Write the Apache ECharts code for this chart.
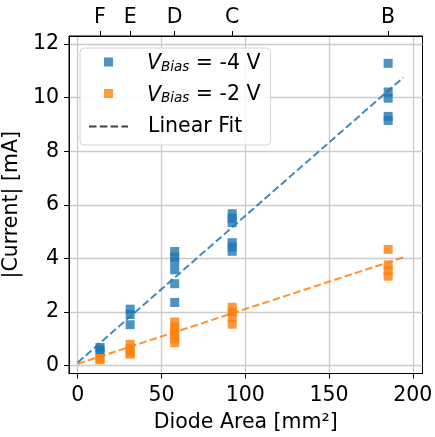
<!DOCTYPE html>
<html>
<head>
<meta charset="utf-8">
<script src="https://cdn.jsdelivr.net/npm/echarts@6/dist/echarts.min.js"></script>
<style>html,body{margin:0;padding:0;background:#fff;}#c{width:435px;height:437px;}</style>
</head>
<body>
<div id="c"></div>
<script>
// Diode areas (mm^2) and their names (top axis)
const areas = [13.3, 31.3, 57.9, 92.2, 185.3];
const areaLabels = ['F', 'E', 'D', 'C', 'B'];
// |Current| in mA, per diode, several measurements each
const currentBias4 = [
  [0.68, 0.6, 0.52],
  [2.11, 1.91, 1.53],
  [4.26, 4.05, 3.9, 3.58, 3.06, 2.36],
  [5.67, 5.5, 5.34, 4.59, 4.43, 4.27],
  [11.28, 10.21, 9.98, 9.3, 9.15]
];
const currentBias2 = [
  [0.27, 0.22],
  [0.8, 0.65, 0.5, 0.43],
  [1.63, 1.45, 1.3, 1.15, 1.0, 0.86],
  [2.18, 2.0, 1.8, 1.55],
  [4.34, 3.76, 3.55, 3.34]
];
// Linear fit endpoints
const fitX = [0, 194.3];
const fitBias4 = [0.12, 10.75];
const fitBias2 = [0.07, 4.04];
// Axis ticks
const xTicks = [0, 50, 100, 150, 200];
const yTicks = [0, 2, 4, 6, 8, 10, 12];
const legendVoltages = ['-4 V', '-2 V'];

const FONT = 'DejaVu Sans';
const FS = 20.5;
const C1 = '#1f77b4', C2 = '#ff7f0e';
const XMIN = -5.2, XMAX = 205.8, YMIN = -0.29, YMAX = 12.3;

function pts(groups) {
  const out = [];
  groups.forEach((g, i) => g.forEach(v => out.push([areas[i], v])));
  return out;
}

const chart = echarts.init(document.getElementById('c'), null, {renderer: 'canvas'});
const sq = 'path://M0,0L1,0L1,1L0,1Z';
chart.setOption({
  animation: false,
  backgroundColor: '#fff',
  grid: {left: 69, right: 12.5, top: 36, bottom: 63.5, show: true, borderColor: '#000', borderWidth: 1, backgroundColor: 'transparent', outerBoundsMode: 'none'},
  legend: {
    orient: 'vertical', left: 80, top: 48,
    padding: [5, 10, 8, 8],
    backgroundColor: 'rgba(255,255,255,0.85)',
    borderColor: '#d4d4d4', borderWidth: 1, borderRadius: 4,
    itemWidth: 39, itemHeight: 9, itemGap: 10.5,
    data: [
      {name: 'bias4', icon: sq},
      {name: 'bias2', icon: sq},
      {name: 'Linear Fit', itemStyle: {opacity: 0}}
    ],
    formatter: function (name) {
      if (name === 'Linear Fit') return '{t0|Linear Fit}';
      const v = name === 'bias4' ? legendVoltages[0] : legendVoltages[1];
      return '{v|V}{s|Bias}{t| = ' + v + '}';
    },
    textStyle: {
      fontFamily: FONT, fontSize: FS, color: '#000',
      rich: {
        v: {fontFamily: FONT, fontSize: FS, fontStyle: 'italic', color: '#000', lineHeight: 24, verticalAlign: 'bottom', padding: [0, 0, 0, 14]},
        s: {fontFamily: FONT, fontSize: 13.5, fontStyle: 'italic', color: '#000', lineHeight: 13.8, verticalAlign: 'bottom'},
        t: {fontFamily: FONT, fontSize: FS, color: '#000', lineHeight: 24, verticalAlign: 'bottom'},
        t0: {fontFamily: FONT, fontSize: FS, color: '#000', lineHeight: 24, padding: [0, 0, 0, 15]}
      }
    }
  },
  xAxis: [{
    type: 'value', position: 'bottom', min: XMIN, max: XMAX,
    name: 'Diode Area [mm²]', nameLocation: 'middle', nameGap: 39,
    nameTextStyle: {fontFamily: FONT, fontSize: FS, color: '#000'},
    axisLine: {show: true, onZero: false, lineStyle: {color: '#000', width: 1}},
    axisTick: {show: true, length: 5, customValues: xTicks, lineStyle: {color: '#000', width: 1}},
    axisLabel: {customValues: xTicks, fontFamily: FONT, fontSize: FS, color: '#000', margin: 12},
    splitLine: {show: true, lineStyle: {color: '#cbcbcb', width: 1.3}}
  }, {
    type: 'value', position: 'top', min: XMIN, max: XMAX,
    axisLine: {show: true, onZero: false, lineStyle: {color: '#000', width: 1}},
    axisTick: {show: true, length: 5, customValues: areas, lineStyle: {color: '#000', width: 1}},
    axisLabel: {customValues: areas, fontFamily: FONT, fontSize: FS, color: '#000', margin: 8,
      formatter: function (v) { const i = areas.indexOf(v); return i >= 0 ? areaLabels[i] : ''; }},
    splitLine: {show: false}
  }],
  yAxis: [{
    type: 'value', min: YMIN, max: YMAX,
    name: '|Current| [mA]', nameLocation: 'middle', nameGap: 32, nameRotate: 90,
    nameTextStyle: {fontFamily: FONT, fontSize: FS, color: '#000'},
    axisLine: {show: true, onZero: false, lineStyle: {color: '#000', width: 1}},
    axisTick: {show: true, length: 5, customValues: yTicks, lineStyle: {color: '#000', width: 1}},
    axisLabel: {customValues: yTicks, fontFamily: FONT, fontSize: FS, color: '#000', margin: 10},
    splitLine: {show: true, lineStyle: {color: '#cbcbcb', width: 1.3}}
  }],
  series: [
    {name: 'bias4', type: 'scatter', symbol: 'rect', symbolSize: 9, data: pts(currentBias4), itemStyle: {color: C1}, z: 3},
    {name: 'bias2', type: 'scatter', symbol: 'rect', symbolSize: 9, data: pts(currentBias2), itemStyle: {color: C2}, z: 3},
    {name: 'fit4', type: 'line', symbol: 'none', data: fitX.map((x, i) => [x, fitBias4[i]]),
      lineStyle: {color: C1, width: 2, type: [7.5, 3.3], opacity: 0.85}, z: 4, silent: true},
    {name: 'fit2', type: 'line', symbol: 'none', data: fitX.map((x, i) => [x, fitBias2[i]]),
      lineStyle: {color: C2, width: 2, type: [7.5, 3.3], opacity: 0.85}, z: 4, silent: true},
    {name: 'Linear Fit', type: 'line', symbol: 'none', data: [], itemStyle: {color: '#404040', opacity: 0},
      lineStyle: {color: '#404040', width: 2, type: [7.5, 3.3]}}
  ]
});
</script>
</body>
</html>
